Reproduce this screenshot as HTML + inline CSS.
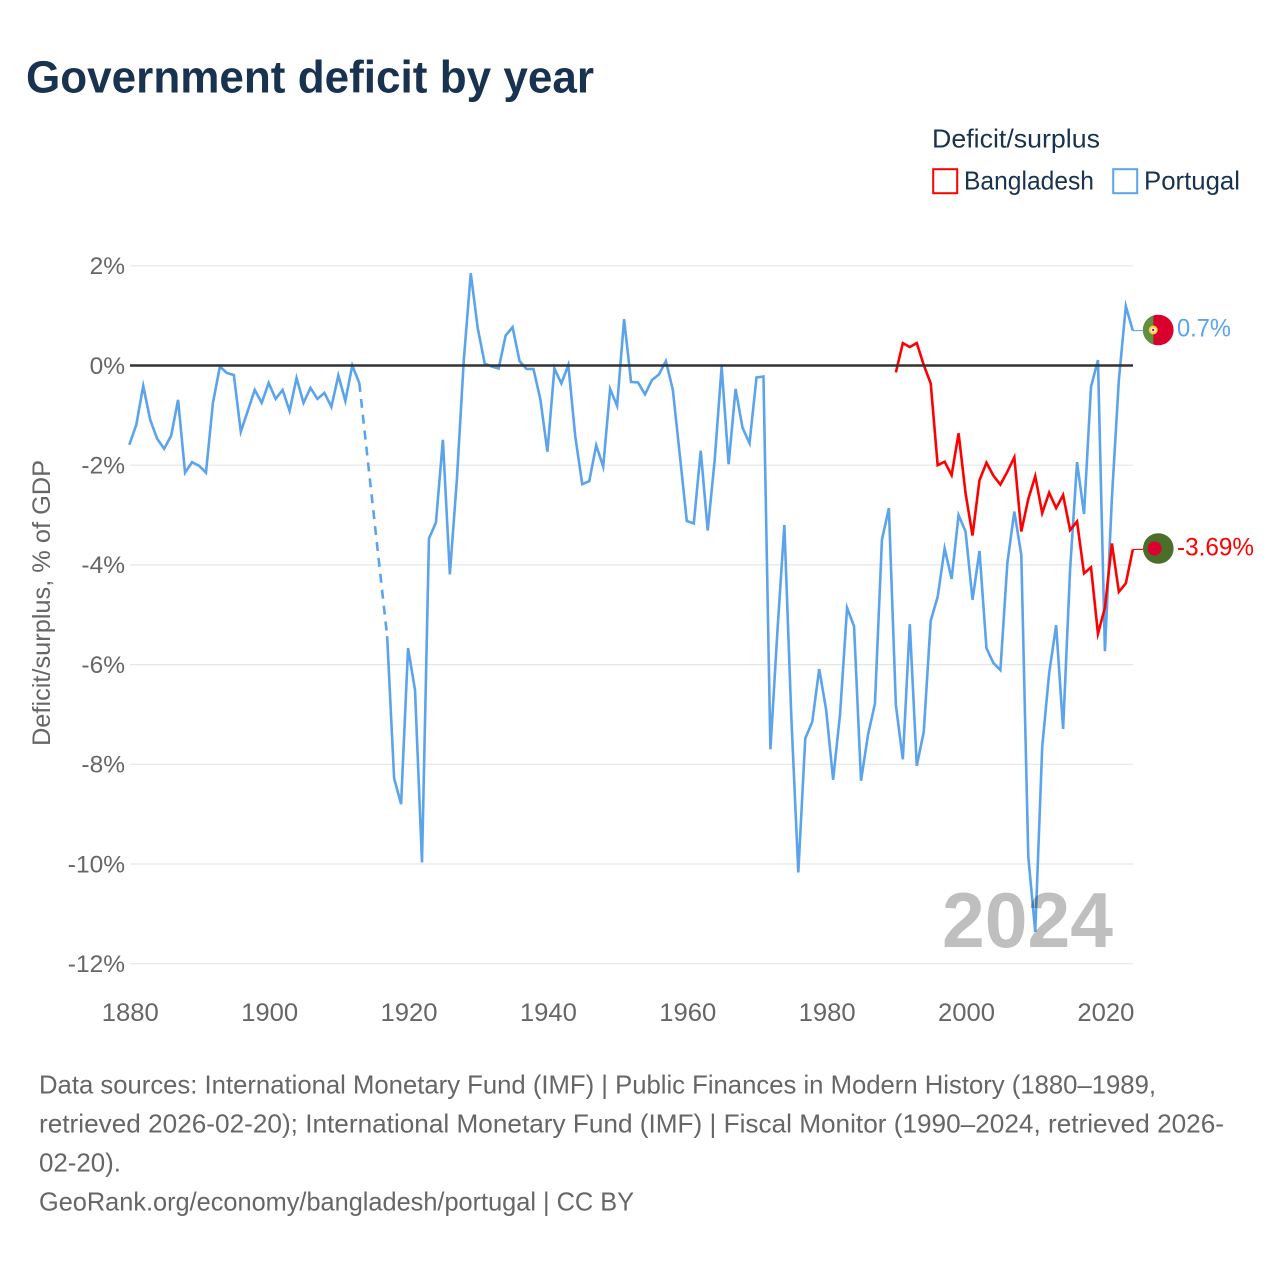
<!DOCTYPE html>
<html lang="en">
<head>
<meta charset="utf-8">
<title>Government deficit by year</title>
<style>
  html, body { margin: 0; padding: 0; background: #fff; }
  svg { display: block; font-family: "Liberation Sans", sans-serif; }
</style>
</head>
<body>
<svg id="chart" xmlns="http://www.w3.org/2000/svg" width="1280" height="1280" viewBox="0 0 1280 1280">
  <rect width="1280" height="1280" fill="#ffffff"/>
  <text x="26" y="92.5" font-size="45" font-weight="700" fill="#18324f" textLength="568" lengthAdjust="spacingAndGlyphs">Government deficit by year</text>

  <g>
    <text x="932" y="147.5" font-size="26" fill="#18324f" textLength="168" lengthAdjust="spacingAndGlyphs">Deficit/surplus</text>
    <rect x="933.2" y="169.2" width="24" height="24" fill="none" stroke="#ff0000" stroke-width="2"/>
    <text x="964" y="189.5" font-size="26" fill="#18324f" textLength="130" lengthAdjust="spacingAndGlyphs">Bangladesh</text>
    <rect x="1113.2" y="169.2" width="24" height="24" fill="none" stroke="#5ba4ec" stroke-width="2"/>
    <text x="1144" y="189.5" font-size="26" fill="#18324f" textLength="96" lengthAdjust="spacingAndGlyphs">Portugal</text>
  </g>

  <g id="grid"></g>
  <g id="yaxis"></g>
  <g id="xaxis"></g>
  <text transform="translate(50,603) rotate(-90)" text-anchor="middle" font-size="25" fill="#666666" textLength="286" lengthAdjust="spacingAndGlyphs">Deficit/surplus, % of GDP</text>

  <g id="series"></g>
  <g id="zero"></g>

  <text x="942" y="947" font-size="78" font-weight="700" fill="#000000" fill-opacity="0.25" textLength="171" lengthAdjust="spacingAndGlyphs">2024</text>

  <g id="ends">
    <g>
      <circle cx="1158.3" cy="330" r="15.3" fill="#d9002e"/>
      <path d="M1153.3 315.5 A15.3 15.3 0 0 0 1153.3 344.5 Z" fill="#5f8f3f"/>
      <circle cx="1153.2" cy="330" r="4.5" fill="#f4d03f"/>
      <circle cx="1153.2" cy="330" r="2.4" fill="#ffffff"/>
      <circle cx="1153.2" cy="330" r="1.2" fill="#d9002e"/>
    </g>
    <g>
      <circle cx="1158.3" cy="548.5" r="15.3" fill="#4b6e2b"/>
      <circle cx="1154.6" cy="548.5" r="7" fill="#dc0030"/>
    </g>
    <text x="1177" y="336.5" font-size="25" fill="#5ba4ec" textLength="54" lengthAdjust="spacingAndGlyphs">0.7%</text>
    <text x="1177" y="555.5" font-size="25" fill="#ff0000" textLength="77" lengthAdjust="spacingAndGlyphs">-3.69%</text>
  </g>

  <g font-size="26" fill="#666666">
    <text x="39" y="1093.5" textLength="1117" lengthAdjust="spacingAndGlyphs">Data sources: International Monetary Fund (IMF) | Public Finances in Modern History (1880–1989,</text>
    <text x="39" y="1132.5" textLength="1185" lengthAdjust="spacingAndGlyphs">retrieved 2026-02-20); International Monetary Fund (IMF) | Fiscal Monitor (1990–2024, retrieved 2026-</text>
    <text x="39" y="1171.5" textLength="82" lengthAdjust="spacingAndGlyphs">02-20).</text>
    <text x="39" y="1210.5" textLength="595" lengthAdjust="spacingAndGlyphs">GeoRank.org/economy/bangladesh/portugal | CC BY</text>
  </g>
</svg>

<script>
const yTickValues = [2, 0, -2, -4, -6, -8, -10, -12];
const xTickYears = [1880, 1900, 1920, 1940, 1960, 1980, 2000, 2020];
const portugalStartYear = 1880;
const portugalValues = [
  -1.59, -1.19, -0.41, -1.09, -1.47, -1.67, -1.41, -0.69, -2.15, -1.94,
  -2.01, -2.15, -0.75, -0.02, -0.15, -0.19, -1.33, -0.91, -0.49, -0.75,
  -0.35, -0.67, -0.49, -0.91, -0.25, -0.75, -0.45, -0.67, -0.55, -0.83,
  -0.20, -0.71, 0.00, -0.35, null, null, null, -5.43, -8.28, -8.80,
  -5.67, -6.51, -9.97, -3.47, -3.15, -1.49, -4.19, -2.30, 0.11, 1.85,
  0.75, 0.04, -0.02, -0.06, 0.60, 0.77, 0.09, -0.07, -0.07, -0.69,
  -1.73, -0.06, -0.36, 0.01, -1.43, -2.38, -2.32, -1.60, -2.03, -0.47,
  -0.81, 0.93, -0.33, -0.34, -0.58, -0.29, -0.18, 0.09, -0.49, -1.80,
  -3.12, -3.17, -1.71, -3.31, -1.90, -0.02, -1.98, -0.47, -1.25, -1.56,
  -0.24, -0.22, -7.70, -5.34, -3.20, -7.05, -10.17, -7.48, -7.15, -6.09,
  -6.91, -8.31, -6.98, -4.86, -5.23, -8.33, -7.41, -6.78, -3.50, -2.86,
  -6.81, -7.90, -5.19, -8.03, -7.35, -5.12, -4.64, -3.67, -4.28, -3.00,
  -3.33, -4.70, -3.72, -5.67, -5.97, -6.11, -3.96, -2.93, -3.80, -9.85,
  -11.36, -7.65, -6.17, -5.21, -7.29, -4.10, -1.94, -2.98, -0.43, 0.11,
  -5.73, -2.66, -0.29, 1.19, 0.70
];
const bangladeshStartYear = 1990;
const bangladeshValues = [
  -0.14, 0.45, 0.37, 0.45, 0.01, -0.36, -2.00, -1.93, -2.20, -1.36,
  -2.56, -3.41, -2.30, -1.95, -2.21, -2.39, -2.13, -1.84, -3.33, -2.68,
  -2.22, -2.96, -2.55, -2.86, -2.60, -3.30, -3.13, -4.17, -4.05, -5.38,
  -4.86, -3.57, -4.54, -4.37, -3.69
];

const SVGNS = 'http://www.w3.org/2000/svg';
function xScale(year) { return 129.3 + (year - 1880) * (1003.5 / 144); }
function yScale(v) { return 365.5 - v * 49.85; }
function make(tag, attrs, parent) {
  const el = document.createElementNS(SVGNS, tag);
  for (const k in attrs) el.setAttribute(k, attrs[k]);
  parent.appendChild(el);
  return el;
}

const gridG = document.getElementById('grid');
const yG = document.getElementById('yaxis');
yTickValues.forEach(function (v) {
  if (v !== 0) {
    const line = make('line', { x1: 130, x2: 1133, y1: yScale(v), y2: yScale(v), stroke: '#e6e6e6', 'stroke-width': 1.2 }, gridG);
    
    
  }
  const label = make('text', { x: 125, y: yScale(v) + 8.3, 'text-anchor': 'end', 'font-size': 24.5, fill: '#666666' }, yG);
  label.textContent = v + '%';
  
  
});

const xG = document.getElementById('xaxis');
xTickYears.forEach(function (year) {
  const label = make('text', { x: xScale(year) + 1, y: 1021, 'text-anchor': 'middle', 'font-size': 25, fill: '#666666', textLength: 57, lengthAdjust: 'spacingAndGlyphs' }, xG);
  label.textContent = String(year);
  
  
});

function drawSeries(values, startYear, color, name) {
  const g = document.getElementById('series');
  let run = [];
  let last = null;
  function flush() {
    if (run.length > 1) {
      const p = make('path', { d: 'M' + run.join('L'), fill: 'none', stroke: color, 'stroke-width': 2.6, 'stroke-linejoin': 'miter', 'stroke-miterlimit': 6 }, g);
      
      
    }
    run = [];
  }
  values.forEach(function (v, i) {
    if (v === null) { flush(); return; }
    const px = xScale(startYear + i).toFixed(2);
    const py = yScale(v).toFixed(2);
    if (last !== null && last.i !== i - 1) {
      const gap = make('path', { d: 'M' + last.px + ' ' + last.py + 'L' + px + ' ' + py, fill: 'none', stroke: color, 'stroke-width': 2.6, 'stroke-dasharray': '9 7' }, g);
      
      
    }
    run.push(px + ' ' + py);
    last = { i: i, px: px, py: py };
  });
  flush();
  const conn = make('line', { x1: last.px, y1: last.py, x2: 1144, y2: last.py, stroke: color, 'stroke-width': 1.1 }, g);
  
  
}
drawSeries(portugalValues, portugalStartYear, '#5ba4ec', 'portugal');
drawSeries(bangladeshValues, bangladeshStartYear, '#ff0000', 'bangladesh');

const zeroLine = make('line', { x1: 130, x2: 1133, y1: yScale(0), y2: yScale(0), stroke: '#333333', 'stroke-width': 2.4 }, document.getElementById('zero'));


</script>
</body>
</html>
